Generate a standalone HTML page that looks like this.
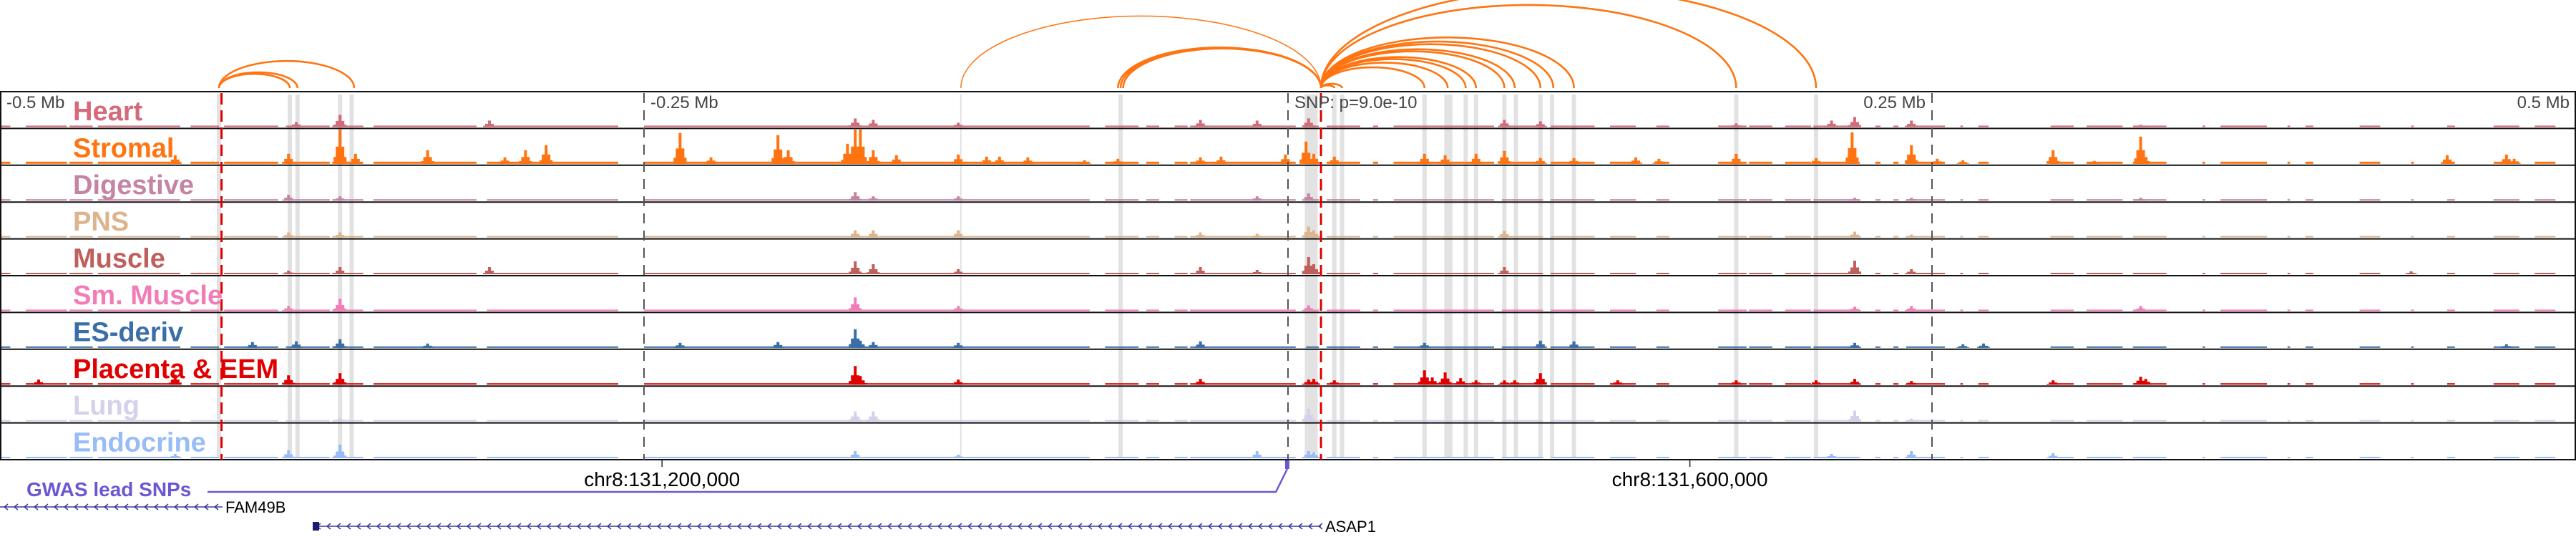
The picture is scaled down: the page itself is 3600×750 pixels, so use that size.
<!DOCTYPE html>
<html><head><meta charset="utf-8"><style>
html,body{margin:0;padding:0;background:#fff;}
svg{display:block;font-family:"Liberation Sans",sans-serif;}
</style></head><body>
<svg id="chart" width="3600" height="750" viewBox="0 0 3600 750" xmlns="http://www.w3.org/2000/svg">
<g id="bands"></g>
<g id="arcs"></g>
<g id="tracks"></g>
<g id="guides"></g>
<g id="labels"></g>
<g id="bottom"></g>
</svg>
<script>
// ---- data (positions in kb relative to lead SNP) ----
const trackNames = ["Heart","Stromal","Digestive","PNS","Muscle","Sm. Muscle","ES-deriv","Placenta & EEM","Lung","Endocrine"];
const trackColors = ["#d46a7a","#ff7410","#c484a4","#dcb48e","#c0605c","#f27cb8","#3a6ea8","#e00000","#d6d0ea","#98bcf6"];
const baseHeights = [2,3,2,2,2,2,2,2,2,2];
const coverage = [[-500,-496],[-490,-474],[-473,-464],[-462,-430],[-426,-415],[-413,-392],[-389,-372],[-371,-359],[-355,-315],[-311,-260],[-250,-168],[-167,-77],[-71,-58],[-55,-50],[-44,-39],[-38,3],[7,12],[15,28],[33,35],[41,80],[83,99],[102,119],[125,135],[143,148],[167,178],[179,188],[193,203],[204,222],[228,230],[235,237],[240,255],[261,262],[268,272],[296,305],[310,324],[328,341],[355,356],[362,380],[388,389],[395,398],[416,424],[436,437],[450,453],[468,478],[484,492]];
const peaksHeart = [[-385,7],[-368,17],[-310,9],[-168,12],[-161,10],[-128,6],[-34,10],[-12,9],[8,12],[84,10],[98,8],[174,5],[211,9],[220,14],[242,9],[331,3]];
const peaksStromal = [[-432,12],[-388,14],[-368,48],[-362,14],[-334,19],[-304,9],[-296,19],[-288,26],[-236,43],[-224,9],[-198,40],[-194,19],[-171,28],[-168,48],[-166,48],[-161,19],[-152,12],[-128,13],[-117,10],[-112,10],[-101,9],[-79,5],[-66,7],[-34,9],[-26,10],[-1,13],[7,31],[10,14],[18,10],[53,14],[61,12],[73,14],[84,18],[98,8],[111,8],[135,9],[144,7],[174,14],[205,8],[219,44],[242,26],[252,7],[262,5],[297,19],[313,4],[331,38],[332,19],[450,12],[473,13],[476,7]];
const peaksDigestive = [[-388,8],[-368,6],[-168,12],[-161,6],[-128,6],[-12,6],[8,10],[220,4],[242,4],[331,4]];
const peaksPNS = [[-388,7],[-368,7],[-168,10],[-161,10],[-128,10],[-34,7],[-12,5],[8,15],[10,10],[84,9],[220,8],[242,4]];
const peaksMuscle = [[-388,5],[-368,10],[-310,10],[-168,18],[-161,14],[-128,7],[-34,10],[-12,6],[8,24],[10,14],[84,10],[220,19],[242,7],[436,4]];
const peaksSmMuscle = [[-388,7],[-368,17],[-168,19],[-128,7],[8,8],[220,6],[242,7],[331,7]];
const peaksES = [[-402,8],[-385,9],[-368,12],[-334,6],[-236,7],[-198,8],[-168,26],[-166,10],[-161,8],[-128,7],[-34,9],[53,7],[98,10],[111,9],[220,7],[262,5],[270,6],[473,5]];
const peaksPlacenta = [[-485,7],[-432,14],[-388,13],[-368,16],[-168,26],[-166,12],[-128,7],[-34,8],[8,7],[10,8],[18,6],[53,20],[56,10],[61,17],[67,9],[73,6],[84,6],[88,6],[98,16],[128,6],[174,6],[205,6],[220,8],[242,5],[297,6],[331,11],[333,8]];
const peaksLung = [[-368,5],[-168,14],[-161,14],[8,18],[220,15],[242,4]];
const peaksEndocrine = [[-432,6],[-388,11],[-368,19],[-168,10],[-128,5],[-12,10],[8,10],[10,8],[211,6],[242,10],[297,7]];
const trackPeaks = [peaksHeart,peaksStromal,peaksDigestive,peaksPNS,peaksMuscle,peaksSmMuscle,peaksES,peaksPlacenta,peaksLung,peaksEndocrine];
const bandsKb = [-415,-387.5,-384.5,-368,-363.5,-127,-65,9,18,21,53,61.5,63,69,73,84,88.5,98,102.5,111,174,205];
const bandWide = [7];
const arcAnchorsLeft = [-415];
const arcTargetsLeft = [-387.5,-384.5,-362.5];
const arcAnchorsRight = [12.8];
const arcTargetsRight = [-127,-66,-65,-64,18,21,53,62,69,73,84,88,98,103,111,174,205];
const axisTicksKb = [-500,-250,0,250,500];
const axisTickLabels = ["-0.5 Mb","-0.25 Mb","SNP: p=9.0e-10","0.25 Mb","0.5 Mb"];
const redLinesKb = [-414,12.8];
const coordTicksKb = [-243,156];
const coordLabels = ["chr8:131,200,000","chr8:131,600,000"];

// ---- scales ----
const NS="http://www.w3.org/2000/svg";
const X = kb => 1800 + kb*3.6;
const TOP=128, TH=51.4, NT=trackNames.length, BOT=TOP+TH*NT;
function mk(tag, attrs, parent){const e=document.createElementNS(NS,tag);for(const k in attrs)e.setAttribute(k,attrs[k]);parent.appendChild(e);return e;}
const gB=document.getElementById('bands'),gA=document.getElementById('arcs'),gT=document.getElementById('tracks'),gG=document.getElementById('guides'),gL=document.getElementById('labels'),gBo=document.getElementById('bottom');

// bands
bandsKb.forEach((kb,i)=>{
  const w = bandWide.includes(i)?18:(kb===-127?2:6);
  const r=mk('rect',{x:X(kb)-w/2,y:TOP+4,width:w,height:BOT-TOP-6,fill:'#e2e2e2'},gB);
  
  
});

// arcs
function arc(a,b,thin){
  const x1=X(a),x2=X(b),s=Math.abs(x2-x1),h=Math.min(s*0.2,400),y=123;
  const p=mk('path',{d:`M${Math.min(x1,x2)},${y} A${s/2},${h} 0 0 1 ${Math.max(x1,x2)},${y}`,fill:'none',stroke:'#ff7410','stroke-width':thin?1.5:2.6},gA);
  
  
}
arcTargetsLeft.forEach(t=>arc(arcAnchorsLeft[0],t,false));
arcTargetsRight.forEach(t=>arc(arcAnchorsRight[0],t,t===-127));

// tracks
for(let i=0;i<NT;i++){
  const top=TOP+i*TH, base=top+TH-2, col=trackColors[i];
  const g=mk('g',{},gT);
  
  
  coverage.forEach(c=>{
    const r=mk('rect',{x:X(c[0]),y:base-baseHeights[i],width:X(c[1])-X(c[0]),height:baseHeights[i],fill:col},g);
    
    
  });
  trackPeaks[i].forEach(p=>{
    const x=X(p[0]),h=p[1];
    const r=mk('rect',{x:x-2,y:base-h,width:4,height:h,fill:col},g);
    
    
    mk('rect',{x:x-6,y:base-h*0.5,width:12,height:h*0.5,fill:col},g);
    mk('rect',{x:x-9,y:base-h*0.2,width:18,height:h*0.2,fill:col},g);
  });
  const l=mk('line',{x1:0,x2:3600,y1:top+TH,y2:top+TH,stroke:'#111','stroke-width':2},gG);
  
  
  const t=mk('text',{x:102,y:top+40,fill:col,'font-size':38,'font-weight':'bold'},gL);
  t.textContent=trackNames[i];
  
  
}
mk('rect',{x:1,y:TOP,width:3598,height:BOT-TOP,fill:'none',stroke:'#111','stroke-width':2},gG);

// axis ticks
axisTicksKb.forEach((kb,i)=>{
  const x=X(kb);
  if(i>0&&i<axisTicksKb.length-1){
    const l=mk('line',{x1:x,x2:x,y1:TOP+2,y2:BOT,stroke:'#555','stroke-width':2,'stroke-dasharray':'14,10'},gG);
    
    
  }
  let tx,anchor;
  if(kb<=0){tx=x+9;anchor='start';}
  else {tx=x-9;anchor='end';}
  const t=mk('text',{x:tx,y:151,fill:'#444','font-size':24,'text-anchor':anchor},gL);
  t.textContent=axisTickLabels[i];
  
  
});
redLinesKb.forEach(kb=>{
  const l=mk('line',{x1:X(kb),x2:X(kb),y1:TOP+2,y2:BOT,stroke:'#e00000','stroke-width':3,'stroke-dasharray':'16,8'},gG);
  
  
});

// coordinate ticks
coordTicksKb.forEach((kb,i)=>{
  const x=X(kb);
  mk('line',{x1:x,x2:x,y1:BOT,y2:BOT+10,stroke:'#222','stroke-width':1.5},gBo);
  const t=mk('text',{x:x,y:679,'font-size':28,'text-anchor':'middle',fill:'#000'},gBo);
  t.textContent=coordLabels[i];
  
  
});

// GWAS
const gw=mk('text',{x:37,y:693,'font-size':28,'font-weight':'bold',fill:'#6a58d2'},gBo);
gw.textContent='GWAS lead SNPs';


const gl=mk('polyline',{points:`290,687 ${X(-4.7)},687 ${X(-0.3)},655`,fill:'none',stroke:'#6a58d2','stroke-width':2.5},gBo);


const gs=mk('rect',{x:X(-0.3)-3,y:643,width:6,height:12,fill:'#6a58d2'},gBo);



// genes
function gene(x1,x2,y,name,lx){
  const g=mk('g',{},gBo);
  
  
  mk('line',{x1:x1,x2:x2,y1:y,y2:y,stroke:'#3a3a9c','stroke-width':1.5},g);
  let d='';
  for(let x=x1+6;x<x2-2;x+=14){d+=`M${x+5},${y-4} L${x},${y} L${x+5},${y+4} `;}
  mk('path',{d:d,fill:'none',stroke:'#3a3a9c','stroke-width':1.5},g);
  const t=mk('text',{x:lx,y:y+8,'font-size':22,fill:'#000'},g);
  t.textContent=name;
}
gene(0,311,708,'FAM49B',315);
gene(437,1846,735,'ASAP1',1852);
mk('rect',{x:437,y:729,width:9,height:12,fill:'#1c1c70'},gBo);
</script>
</body></html>
